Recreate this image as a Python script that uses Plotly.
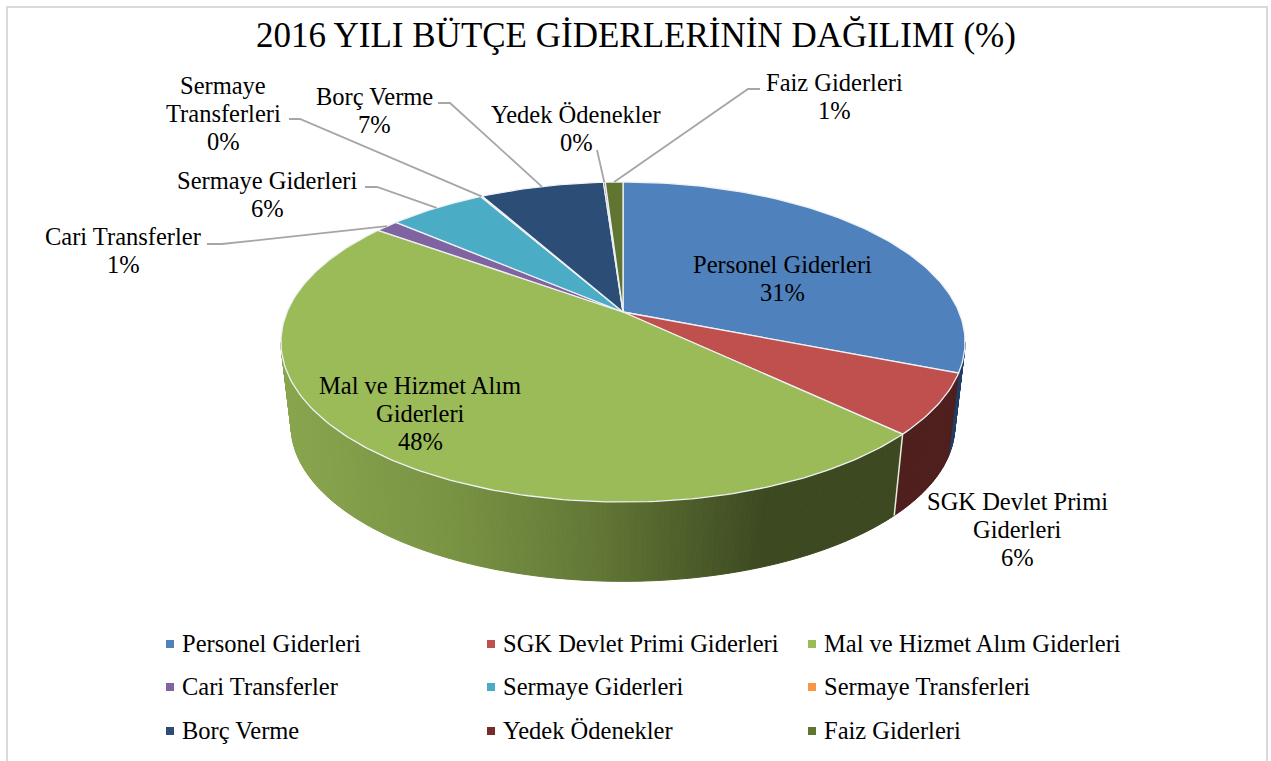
import numpy as np
import plotly.graph_objects as go

# ---------- data ----------
categories = ["Personel Giderleri", "SGK Devlet Primi Giderleri", "Mal ve Hizmet Alım Giderleri",
              "Cari Transferler", "Sermaye Giderleri", "Sermaye Transferleri",
              "Borç Verme", "Yedek Ödenekler", "Faiz Giderleri"]
values = [31.0, 6.1, 47.9, 1.3, 5.5, 0.1, 7.0, 0.1, 1.0]
colors = ["#4f81bd", "#c0504d", "#9bbb59", "#8064a2", "#4bacc6", "#f79646", "#2c4d75", "#772c2a", "#5f7530"]
title = "2016 YILI BÜTÇE GİDERLERİNİN DAĞILIMI (%)"

# ---------- layout constants ----------
W, H = 1271, 761
CX, CY = 623, 312
A, B, K = 336, 154.4, 0.1875      # perspective disc
DEPTH, SHRINK = 85, 0.97          # extrusion
FONT = "Liberation Serif"
FS = 24.5
LINE = 28
label_lines = {
    0: (["Personel Giderleri", "31%"], 782, 264, None),
    1: (["SGK Devlet Primi", "Giderleri", "6%"], 1017, 501, None),
    2: (["Mal ve Hizmet Alım", "Giderleri", "48%"], 420, 385, None),
    3: (["Cari Transferler", "1%"], 123, 236, [(207, 244), (222, 244)]),
    4: (["Sermaye Giderleri", "6%"], 267, 180, [(365, 187), (377, 187)]),
    5: (["Sermaye", "Transferleri", "0%"], 223, 85, [(289, 119), (300, 119)]),
    6: (["Borç Verme", "7%"], 374, 96, [(438, 103), (450, 103)]),
    7: (["Yedek Ödenekler", "0%"], 576, 114, [(597, 150)]),
    8: (["Faiz Giderleri", "1%"], 834, 82, [(760, 89), (748, 89)]),
}
legend_x = [170, 491, 812]
legend_y = [644, 687, 731]


def project(phi, depth=False):
    """phi: clockwise angle from 12 o'clock, radians."""
    d = 1 + K * np.cos(phi)
    x = A * np.sin(phi) / d
    y = -B * np.cos(phi) / d
    if depth:
        return CX + SHRINK * x, CY + DEPTH + SHRINK * y
    return CX + x, CY + y


def shade(stops, x):
    xs = [s[0] for s in stops]
    rgb = [np.interp(x, xs, [s[1][i] for s in stops]) for i in range(3)]
    return "rgb(%d,%d,%d)" % tuple(rgb)


green_side = [(285, (137, 166, 78)), (450, (122, 148, 68)), (600, (98, 119, 54)),
              (680, (80, 97, 44)), (760, (62, 75, 34)), (900, (61, 73, 33))]
side_shades = {0: [(0, (31, 63, 102)), (W, (31, 63, 102))],
               1: [(0, (79, 31, 29)), (W, (79, 31, 29))],
               2: green_side}

edges = np.radians(np.concatenate([[0], np.cumsum(values)]) * 3.6)
edges[-1] = 2 * np.pi
fig = go.Figure()

# side wall (front half of the rim only)
RIM_FROM, RIM_TO = np.arccos(-K), 2 * np.pi - np.arccos(-K)
for i in range(3):
    lo, hi = max(edges[i], RIM_FROM), min(edges[i + 1], RIM_TO)
    n = max(2, int((hi - lo) / np.radians(0.8)))
    grid = np.linspace(lo, hi, n + 1)
    for p0, p1 in zip(grid[:-1], grid[1:]):
        t = np.array([p0, p1])
        x0, y0 = project(t)
        x1, y1 = project(t[::-1], depth=True)
        xs = np.r_[x0, x1, x0[0]]
        ys = np.r_[y0, y1, y0[0]]
        c = shade(side_shades[i], xs.mean())
        fig.add_trace(go.Scatter(x=xs, y=ys, mode="lines", fill="toself", fillcolor=c,
                                 line=dict(color=c, width=1), hoverinfo="skip", showlegend=False))
# seam between green and red walls
x_a, y_a = project(np.array([edges[2]]))
x_b, y_b = project(np.array([edges[2]]), depth=True)
fig.add_trace(go.Scatter(x=[x_a[0], x_b[0]], y=[y_a[0], y_b[0]], mode="lines",
                         line=dict(color="#e8ecdc", width=1.5), hoverinfo="skip", showlegend=False))

# top face
for i, cat in enumerate(categories):
    t = np.linspace(edges[i], edges[i + 1], max(3, int((edges[i + 1] - edges[i]) / np.radians(1)) + 2))
    x, y = project(t)
    fig.add_trace(go.Scatter(x=np.r_[CX, x, CX], y=np.r_[CY, y, CY], mode="lines", fill="toself",
                             fillcolor=colors[i], line=dict(color="#eef1f5", width=1.3),
                             name=cat, hoverinfo="name", showlegend=False))

# leader lines and data labels
for i, (lines, lx, ly, leader) in label_lines.items():
    if leader:
        mid = (edges[i] + edges[i + 1]) / 2
        ex, ey = project(np.array([mid]))
        px = [p[0] for p in leader] + [ex[0]]
        py = [p[1] for p in leader] + [ey[0]]
        fig.add_trace(go.Scatter(x=px, y=py, mode="lines", line=dict(color="#a6a6a6", width=1.8),
                                 hoverinfo="skip", showlegend=False))
    for j, ln in enumerate(lines):
        fig.add_annotation(x=lx, y=ly + j * LINE, text=ln, showarrow=False, xanchor="center",
                           yanchor="middle", font=dict(family=FONT, size=FS, color="#000000"))

# legend grid: square key plus its label
for i, cat in enumerate(categories):
    kx, ky = legend_x[i % 3], legend_y[i // 3]
    fig.add_trace(go.Scatter(x=[kx], y=[ky], mode="markers",
                             marker=dict(symbol="square", size=8, color=colors[i]),
                             hoverinfo="skip", showlegend=False, cliponaxis=False))
    fig.add_annotation(x=kx + 10, y=ky - 1, text=cat, showarrow=False, xanchor="left",
                       yanchor="middle", font=dict(family=FONT, size=FS, color="#000000"))

fig.update_layout(
    width=W, height=H, autosize=False, margin=dict(l=0, r=0, t=0, b=0),
    paper_bgcolor="white", plot_bgcolor="white", showlegend=False,
    title=dict(text=title, x=636 / W, xanchor="center", y=1 - 35 / H, yanchor="middle",
               font=dict(family=FONT, size=35, color="#000000")),
    xaxis=dict(range=[0, W], visible=False, fixedrange=True),
    yaxis=dict(range=[H, 0], visible=False, fixedrange=True),
    shapes=[dict(type="rect", xref="x", yref="y", x0=7, y0=7, x1=1267, y1=H + 30,
                 line=dict(color="#d9d9d9", width=2), layer="below")],
)
fig.write_html("out.html", config={"displayModeBar": False},
               post_script="document.body.style.margin='0';document.body.style.overflow='hidden';")
